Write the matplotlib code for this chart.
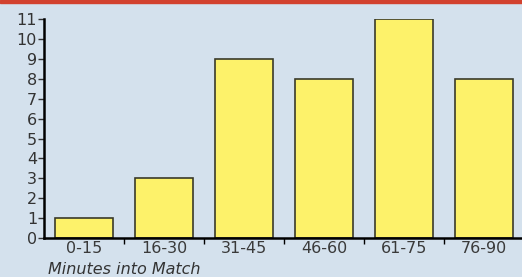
import matplotlib
matplotlib.use("Agg")
import matplotlib.pyplot as plt
import numpy as np

# Goals scored by time period
periods = ["0-15", "16-30", "31-45", "46-60", "61-75", "76-90"]
goals = [1, 3, 9, 8, 11, 8]
yticks = list(range(0, 12))

bg = "#d4e1ed"
bar_color = "#fdf26a"

fig = plt.figure(figsize=(5.22, 2.77), dpi=100, facecolor=bg)
ax = fig.add_axes([0.0843, 0.1408, 0.92, 0.79])
ax.set_facecolor(bg)

x = np.arange(len(periods))
ax.bar(x, goals, width=0.72, color=bar_color, edgecolor="#3a3a2a", linewidth=1.2, zorder=2)

ax.set_xlim(-0.5, len(periods) - 0.5)
ax.set_ylim(0, 11)
ax.set_yticks(yticks)
ax.tick_params(axis="y", direction="out", length=4, width=1, pad=1, labelsize=11.5, colors="#333333")

# category labels centered, tick marks between categories
ax.set_xticks(x)
ax.set_xticklabels(periods, fontsize=11.5, color="#3a3a3a")
ax.tick_params(axis="x", length=0, pad=2)
ax.set_xticks(np.arange(0.5, len(periods) - 0.5, 1), minor=True)
ax.tick_params(axis="x", which="minor", direction="out", length=4, width=1)

for s in ["top", "right"]:
    ax.spines[s].set_visible(False)
ax.spines["left"].set_linewidth(1.8)
ax.spines["bottom"].set_linewidth(1.8)

fig.text(0.092, 0.0, "Minutes into Match", fontsize=11.5, style="italic",
         color="#333333", va="bottom")

# red band across the top
fig.patches.append(plt.Rectangle((0, 0.988), 1, 0.012, transform=fig.transFigure,
                                 color="#d2412e", zorder=5))

fig.savefig("out.png", dpi=100, facecolor=bg)
